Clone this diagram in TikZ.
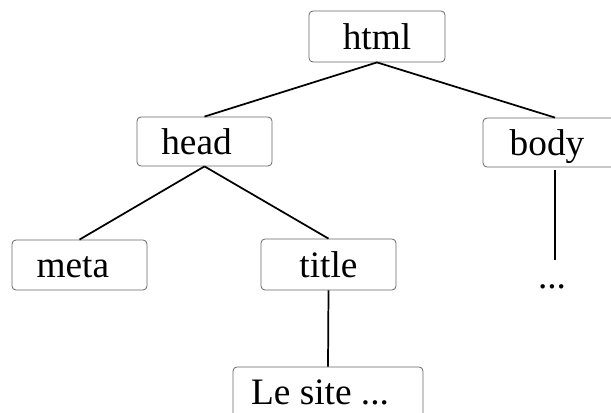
\documentclass[tikz,border=0pt]{standalone}
\usepackage{fontspec}
\setmainfont{Liberation Serif}
\begin{document}
\begin{tikzpicture}[x=0.75pt,y=-0.75pt,
  box/.style={draw=gray!80!black,line width=0.6pt,rounded corners=3pt,inner sep=0pt},
  txt/.style={font=\fontsize{28}{30}\selectfont,text height=19.5pt,text depth=0pt,inner sep=0pt},
  conn/.style={line width=1.3pt,black}]
\useasboundingbox (0,0) rectangle (611,413);
\clip (0,0) rectangle (611,413);
\node[box,minimum width=102pt,minimum height=38.25pt,
  label={[txt,xshift=0pt]center:html}] (html) at (377,36.5) {};
\node[box,minimum width=101.25pt,minimum height=36.75pt,
  label={[txt,xshift=-6pt]center:head}] (head) at (204.5,141.5) {};
\node[box,minimum width=108pt,minimum height=36.75pt,
  label={[txt,xshift=-6pt]center:body}] (body) at (555,142.5) {};
\node[box,minimum width=101.25pt,minimum height=37.5pt,
  label={[txt,xshift=-5pt]center:meta}] (meta) at (79.5,265) {};
\node[box,minimum width=101.25pt,minimum height=38.25pt,
  label={[txt,xshift=0pt]center:title}] (title) at (328.5,264.5) {};
\node[box,minimum width=142.5pt,minimum height=37.5pt,
  label={[txt,xshift=-6pt]center:Le site ...}] (site) at (328,392) {};
\node[txt,anchor=base] (dots) at (552,289) {...};
\coordinate (bodyend) at (555,260);
\draw[conn] (html.south) -- (head.north);
\draw[conn] (html.south) -- (body.north);
\draw[conn] (head.south) -- (meta.north);
\draw[conn] (head.south) -- (title.north);
\draw[conn] (title.south) -- (site.north);
\draw[conn] ([yshift=-2pt]body.south) -- (bodyend);
\end{tikzpicture}
\end{document}
